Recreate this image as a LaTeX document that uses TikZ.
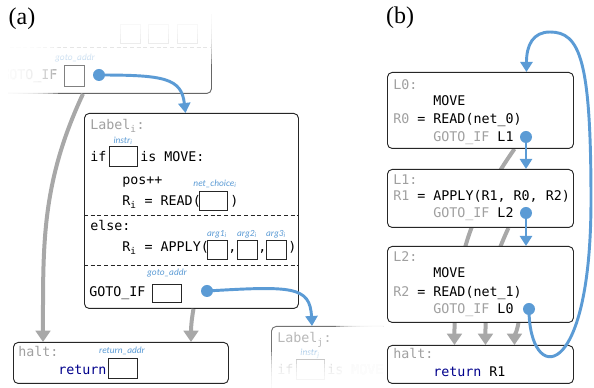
\documentclass[tikz,border=0pt]{standalone}
\usepackage{fontspec}
\setmainfont{Liberation Serif}
\setmonofont{DejaVu Sans Mono}
\newfontfamily\argfont{Carlito}
\usetikzlibrary{arrows.meta,backgrounds}
\newdimen\px \px=0.75pt
\definecolor{jumpblue}{RGB}{91,155,213}
\definecolor{haltgray}{RGB}{168,168,168}
\definecolor{labelgray}{RGB}{160,160,160}
\definecolor{retnavy}{RGB}{0,0,140}
\tikzset{
  codebox/.style={draw=black!85, line width=0.7pt, rounded corners=3.5pt, fill=white,
    anchor=north west, inner sep=0pt},
  slot/.style={draw=black!85, line width=0.7pt, fill=white, anchor=north west, inner sep=0pt},
  code/.style={font=\ttfamily\fontsize{10}{12}\selectfont, anchor=base west, inner sep=0pt},
  argname/.style={font=\argfont\itshape\fontsize{7}{8}\selectfont, text=jumpblue, inner sep=0pt},
  divider/.style={black!85, line width=0.7pt, dash pattern=on 3pt off 2pt},
  jumparrow/.style={jumpblue, line width=2.2pt, -{Triangle[width=9pt,length=7.5pt]}},
  haltarrow/.style={haltgray, line width=3pt, -{Triangle[width=11pt,length=8.5pt]}},
  panel/.style={font=\fontsize{18}{20}\selectfont, inner sep=0pt},
  veil/.style={fill=white, fill opacity=0.3},
  % one labelled block of panel (a)
  labelblock/.pic={
    \node[codebox, minimum width=214\px, minimum height=195\px] (-box) at (0,0) {};
    \node[code, text=labelgray] (-name) at (6,17) {Label\textsubscript{#1}:};
    \node[argname] (-instrname) at (39,28) {instr\textsubscript{#1}};
    \node[code] (-if) at (6,49) {if};
    \node[slot, minimum width=28\px, minimum height=20\px] (-instr) at (25,33) {};
    \node[code] (-move) at (56,49) {is MOVE:};
    \node[code] (-pos) at (38,72) {pos++};
    \node[argname] (-netname) at (131,71) {net\_choice\textsubscript{#1}};
    \node[code] (-read) at (38,93) {R\textsubscript{#1} = READ(};
    \node[slot, minimum width=28\px, minimum height=19\px] (-net) at (115,78) {};
    \node[code] (-readend) at (146,93) {)};
    \draw[divider] (0,102) -- (214,102);
    \node[code] (-else) at (6,118) {else:};
    \node[argname] (-argnamea) at (133,121) {arg1\textsubscript{#1}};
    \node[argname] (-argnameb) at (163,121) {arg2\textsubscript{#1}};
    \node[argname] (-argnamec) at (192,121) {arg3\textsubscript{#1}};
    \node[code] (-apply) at (38,139) {R\textsubscript{#1} = APPLY(};
    \node[slot, minimum width=20\px, minimum height=19\px] (-arga) at (123,127) {};
    \node[code] (-comma) at (144,139) {,};
    \node[slot, minimum width=20\px, minimum height=19\px] (-argb) at (153,127) {};
    \node[code] (-commb) at (174,139) {,};
    \node[slot, minimum width=20\px, minimum height=19\px] (-argc) at (182,127) {};
    \node[code] (-applyend) at (204,139) {)};
    \draw[divider] (0,152) -- (214,152);
    \node[argname] (-gotoname) at (83,160) {goto\_addr};
    \node[code] (-goto) at (5,184) {GOTO\_IF};
    \node[slot, minimum width=29\px, minimum height=18\px] (-addr) at (68,171) {};
    \coordinate (-jump) at (123,178);
    \fill[jumpblue] (-jump) circle (4.5pt);
  },
}
\begin{document}
\begin{tikzpicture}[x=0.75pt, y=-0.75pt]
  \useasboundingbox (0,0) rectangle (594,388);
  \clip (0,0) rectangle (594,388);

  % (a) previous block, fading out
  \node[codebox, draw=black!60, minimum width=221\px, minimum height=203\px] (topbox) at (-10,-110) {};
  \draw[divider, black!40] (-10,47) -- (211,47);
  \foreach \x in {120,148,177}
    \node[slot, draw=black!40, minimum width=20\px, minimum height=19\px] at (\x,24) {};
  \node[argname, text=jumpblue!55] (topgotoname) at (75,58) {goto\_addr};
  \node[code, text=black!55] (topgoto) at (1,80) {GOTO\_IF};
  \node[slot, draw=black!50, minimum width=20\px, minimum height=21\px] (topaddr) at (64,65) {};
  \foreach \k in {0,...,9}{
    \fill[veil] (-5,0) rectangle (58-5*\k,96);
    \fill[veil] (-5,0) rectangle (215,64-5*\k);
  }
  \fill[white] (-5,-5) rectangle (8,96);
  \fill[white] (-5,-5) rectangle (215,14);
  \coordinate (topjump) at (99,75);

  \pic (labeli) at (84,113) {labelblock=i};

  % (a) next block, fading out
  \begin{scope}
    \clip (262,318) rectangle (383,392);
    \node[codebox, draw=black!55, minimum width=214\px, minimum height=80\px] (labelj) at (271,326) {};
    \node[code, text=labelgray!75] (labeljname) at (277,343) {Label\textsubscript{j}:};
    \node[argname, text=jumpblue!55] (labeljinstrname) at (310,354) {instr\textsubscript{j}};
    \node[code, text=black!45] (labeljif) at (277,375) {if};
    \node[slot, draw=black!45, minimum width=28\px, minimum height=20\px] (labeljinstr) at (296,359) {};
    \node[code, text=black!45] (labeljmove) at (327,375) {is MOVE:};
    \foreach \k in {0,...,9}{
      \fill[veil] (336+4*\k,318) rectangle (383,392);
      \fill[veil] (262,352+4*\k) rectangle (383,392);
    }
  \end{scope}

  \node[codebox, minimum width=215\px, minimum height=41\px] (halta) at (13,342) {};
  \node[code, text=labelgray] (haltaname) at (18,357) {halt:};
  \node[argname] (retaddrname) at (122,351) {return\_addr};
  \node[code, text=retnavy] (return) at (58,375) {return};
  \node[slot, minimum width=29\px, minimum height=20\px] (retaddr) at (108,358) {};

  \draw[haltarrow] ([xshift=-18\px]topbox.south) to[out=-115, in=90] ([xshift=30\px]halta.north west);
  \draw[haltarrow] ([xshift=2\px]labeli-box.south) to[out=-100, in=90] ([xshift=178\px]halta.north west);
  \fill[jumpblue] (topjump) circle (4.5pt);
  \draw[jumparrow] (topjump) .. controls +(65,0) and +(-4,-35) .. ([xshift=-6\px]labeli-box.north);
  \draw[jumparrow] (labeli-jump) .. controls +(85,-5) and +(-2,-40) .. ([xshift=41\px]labelj.north west);

  % (b) the unrolled program
  \node[codebox, minimum width=186\px, minimum height=76\px] (l0) at (387,72) {};
  \node[code, text=labelgray] (l0name) at (393,90) {L0:};
  \node[code] (l0move) at (433,106) {MOVE};
  \node[code] (l0read) at (393,124) {{\color{labelgray}R0} = READ(net\_0)};
  \node[code] (l0goto) at (433,142) {{\color{labelgray}GOTO\_IF} L1};
  \coordinate (l0jump) at (526,137);

  \node[codebox, minimum width=186\px, minimum height=58\px] (l1) at (387,169) {};
  \node[code, text=labelgray] (l1name) at (393,185) {L1:};
  \node[code] (l1apply) at (393,201) {{\color{labelgray}R1} = APPLY(R1, R0, R2)};
  \node[code] (l1goto) at (433,218) {{\color{labelgray}GOTO\_IF} L2};
  \coordinate (l1jump) at (526,213);

  \node[codebox, minimum width=186\px, minimum height=76\px] (l2) at (387,246) {};
  \node[code, text=labelgray] (l2name) at (393,262) {L2:};
  \node[code] (l2move) at (433,278) {MOVE};
  \node[code] (l2read) at (393,297) {{\color{labelgray}R2} = READ(net\_1)};
  \node[code] (l2goto) at (433,314) {{\color{labelgray}GOTO\_IF} L0};
  \coordinate (l2jump) at (529,309);

  \node[codebox, minimum width=186\px, minimum height=38\px] (haltb) at (387,345) {};
  \node[code, text=labelgray] (haltbname) at (393,359) {halt:};
  \node[code] (haltbret) at (433,377) {{\color{retnavy}return} R1};

  \begin{scope}[on background layer]
    \draw[haltarrow] ([xshift=34\px]l0.south) to[out=-125, in=90] ([xshift=-26\px]haltb.north);
    \draw[haltarrow] ([xshift=28\px]l1.south) to[out=-115, in=90] ([xshift=5\px]haltb.north);
    \draw[haltarrow] ([xshift=38\px]l2.south) to[out=-100, in=90] ([xshift=34\px]haltb.north);
  \end{scope}

  \foreach \j in {l0jump,l1jump,l2jump}
    \fill[jumpblue] (\j) circle (4.5pt);
  \draw[jumparrow] (l0jump) -- (l0jump |- l1.north);
  \draw[jumparrow] (l1jump) -- (l1jump |- l2.north);
  \coordinate (loopright) at (591,200);
  \coordinate (looptop) at (550,32);
  \draw[jumparrow] (l2jump) .. controls +(0,76) and +(0,185) .. (loopright)
    .. controls +(0,-140) and +(30,0) .. (looptop)
    .. controls +(-17,0) and +(0,-27) .. ([xshift=46\px]l0.north);

  \node[panel] (parta) at (22,19) {(a)};
  \node[panel] (partb) at (400,18) {(b)};
\end{tikzpicture}
\end{document}
